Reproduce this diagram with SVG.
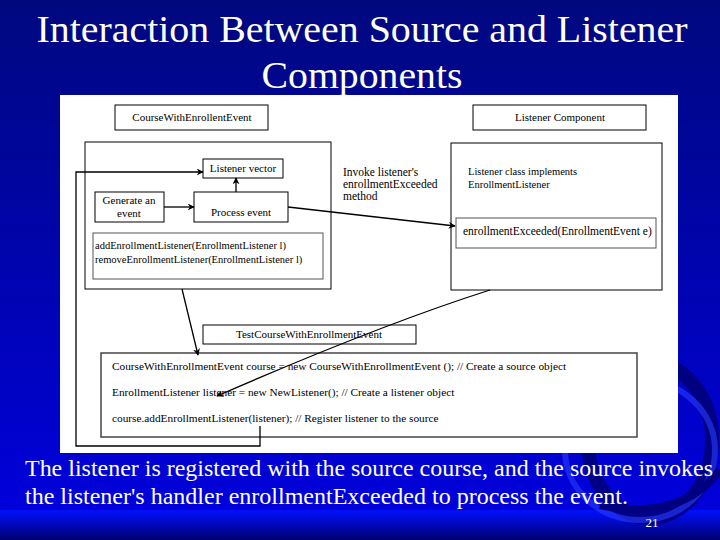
<svg xmlns="http://www.w3.org/2000/svg" width="720" height="540" viewBox="0 0 720 540">
<defs>
<linearGradient id="bg" x1="0" y1="0" x2="0" y2="540" gradientUnits="userSpaceOnUse">
<stop offset="0" stop-color="#00087e"/>
<stop offset="60" stop-color="#0000e0"/>
<stop offset="100" stop-color="#0000ff"/>
<stop offset="508" stop-color="#000088"/>
</linearGradient>
<linearGradient id="band" x1="0" y1="0" x2="0" y2="1">
<stop offset="0" stop-color="#0010ff"/>
<stop offset="1" stop-color="#000070"/>
</linearGradient>
<marker id="ah" viewBox="0 0 10 10" refX="9" refY="5" markerWidth="7" markerHeight="7" orient="auto-start-reverse" markerUnits="userSpaceOnUse">
<path d="M0,0 L10,5 L0,10 L3,5 Z" fill="#000"/>
</marker>
<style>
.box{fill:#fff;stroke:#000;stroke-width:1}
.t{font-family:'Liberation Serif','Times New Roman','DejaVu Serif',serif;fill:#000;font-size:11px}
.c{text-anchor:middle}
.ln{fill:none;stroke:#000;stroke-width:1.3}
.title{font-family:'Liberation Serif','Times New Roman','DejaVu Serif',serif;fill:#fffff0;font-size:37px;text-anchor:middle}
.cap{font-family:'Liberation Serif','Times New Roman','DejaVu Serif',serif;fill:#fff;font-size:23px}
</style>
</defs>
<rect width="720" height="540" fill="url(#bg)"/>
<rect x="0" y="510" width="720" height="30" fill="url(#band)"/>
<g id="swirl" fill="none">
<ellipse cx="650" cy="440" rx="62" ry="78" stroke="#000070" stroke-width="14" opacity="0.8"/>
<ellipse cx="640" cy="450" rx="75" ry="70" stroke="#2a3cff" stroke-width="6" opacity="0.6"/>
<path d="M600,505 Q680,522 720,470" stroke="#000080" stroke-width="8"/>
</g>
<text class="title" x="362" y="42" textLength="651" lengthAdjust="spacingAndGlyphs">Interaction Between Source and Listener</text>
<text class="title" x="362" y="88" textLength="201" lengthAdjust="spacingAndGlyphs">Components</text>
<rect x="60" y="95" width="618" height="358" fill="#fff"/>

<g id="srcTitle"><rect class="box" x="115" y="105" width="153" height="25"/><text class="t c" x="192" y="121">CourseWithEnrollentEvent</text></g>
<g id="srcBox"><rect class="box" x="85" y="142" width="246" height="147"/></g>
<g id="listenerVector"><rect class="box" x="203" y="159" width="80" height="19"/><text class="t c" x="243" y="172">Listener vector</text></g>
<g id="generate"><rect class="box" x="95" y="192" width="69" height="30"/><text class="t c" x="129" y="204">Generate an</text><text class="t c" x="129" y="217">event</text></g>
<g id="process"><rect class="box" x="194" y="192" width="94" height="30"/><text class="t c" x="241" y="216">Process event</text></g>
<g id="methods"><rect x="93" y="233" width="230" height="46" fill="#fff" stroke="#555" stroke-width="1"/><text class="t" x="95" y="249" style="font-size:10.5px">addEnrollmentListener(EnrollmentListener l)</text><text class="t" x="95" y="263" style="font-size:10.5px">removeEnrollmentListener(EnrollmentListener l)</text></g>

<g id="lcTitle"><rect class="box" x="473" y="105" width="173" height="25"/><text class="t c" x="560" y="121">Listener Component</text></g>
<g id="lcBox"><rect class="box" x="451" y="143" width="211" height="147"/><text class="t" x="468" y="175" style="font-size:10.5px">Listener class implements</text><text class="t" x="468" y="188" style="font-size:10.5px">EnrollmentListener</text></g>
<g id="exceeded"><rect x="456" y="218" width="200" height="30" fill="#fff" stroke="#555" stroke-width="1"/><text class="t" x="463" y="235" style="font-size:11.5px">enrollmentExceeded(EnrollmentEvent  e)</text></g>
<g id="invokeLabel"><text class="t" x="343" y="176" style="font-size:11.5px">Invoke listener's</text><text class="t" x="343" y="188" style="font-size:11.5px">enrollmentExceeded</text><text class="t" x="343" y="200" style="font-size:11.5px">method</text></g>

<g id="testTitle"><rect class="box" x="203" y="325" width="213" height="19"/><text class="t c" x="309" y="338">TestCourseWithEnrollmentEvent</text></g>
<g id="code"><rect x="101" y="353" width="536" height="84" fill="#fff" stroke="#444" stroke-width="1.5"/>
<text class="t" x="112" y="370" style="font-size:11.3px">CourseWithEnrollmentEvent course = new CourseWithEnrollmentEvent (); // Create a source object</text>
<text class="t" x="112" y="396" style="font-size:11.3px">EnrollmentListener listener = new NewListener(); // Create a listener object</text>
<text class="t" x="112" y="422" style="font-size:11.3px">course.addEnrollmentListener(listener);  // Register listener to the source</text></g>

<g id="connectors">
<path class="ln" d="M164,207 L194,207" marker-end="url(#ah)"/>
<path class="ln" d="M236,192 L236,178" marker-end="url(#ah)"/>
<path class="ln" d="M260,426 L260,446 L76,446 L76,172 L203,172" marker-end="url(#ah)"/>
<path class="ln" d="M288,207 L455,226" marker-end="url(#ah)"/>
<path class="ln" d="M182,289 L198,355" marker-end="url(#ah)"/>
<path class="ln" d="M490,290 Q380,325 217,396" marker-end="url(#ah)"/>
</g>

<text class="cap" x="25" y="476" textLength="688" lengthAdjust="spacingAndGlyphs">The listener is registered with the source course, and the source invokes</text>
<text class="cap" x="25" y="504" textLength="603" lengthAdjust="spacingAndGlyphs">the listener's handler enrollmentExceeded to process the event.</text>
<text x="652" y="527" font-family="'Liberation Serif','DejaVu Serif',serif" font-size="13" fill="#fff" text-anchor="middle">21</text>
</svg>
